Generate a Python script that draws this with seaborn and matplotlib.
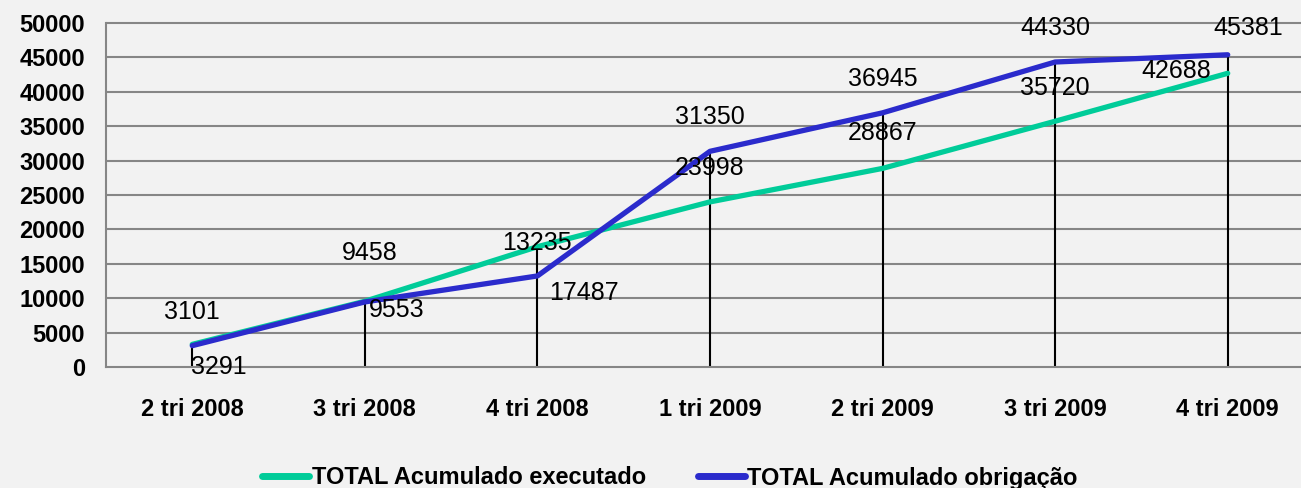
import numpy as np
import pandas as pd
import seaborn as sns
import matplotlib
matplotlib.use("Agg")
import matplotlib.pyplot as plt

# data
quarters = ["2 tri 2008", "3 tri 2008", "4 tri 2008", "1 tri 2009",
            "2 tri 2009", "3 tri 2009", "4 tri 2009"]
executado = [3291, 9553, 17487, 23998, 28867, 35720, 42688]
obrigacao = [3101, 9458, 13235, 31350, 36945, 44330, 45381]

name_exec = "TOTAL Acumulado executado"
name_obrig = "TOTAL Acumulado obrigação"

# label offsets in pixels (dx, dy), as placed in the original
off_exec = [(27, -23), (32, -9), (47, -46), (0, 34), (0, 35), (0, 33), (-51, 2)]
off_obrig = [(0, 34), (5, 49), (0, 33), (0, 34), (0, 34), (0, 34), (21, 27)]

bg = "#F2F2F2"
grid_c = "#868686"
green = "#00CC99"
blue = "#2B2BCC"

sns.set_style("white")
plt.rcParams['font.family'] = ['Liberation Sans', 'DejaVu Sans']
plt.rcParams['text.color'] = 'black'
plt.rcParams['xtick.color'] = 'black'
plt.rcParams['ytick.color'] = 'black'

df = pd.DataFrame({
    "x": list(range(len(quarters))) * 2,
    "valor": executado + obrigacao,
    "serie": [name_exec] * len(quarters) + [name_obrig] * len(quarters),
})

fig = plt.figure(figsize=(13.01, 4.88), dpi=100, facecolor=bg)
ax = fig.add_axes([106 / 1301, (488 - 367) / 488, 1208 / 1301, 344 / 488])
ax.set_facecolor(bg)

# horizontal grid
for y in range(5000, 50001, 5000):
    ax.axhline(y, color=grid_c, lw=1.5, zorder=1, clip_on=False)

# drop lines up to the higher series
ax.vlines(range(len(quarters)), 0, np.maximum(executado, obrigacao),
          color="black", lw=1.5, zorder=2)

sns.lineplot(data=df, x="x", y="valor", hue="serie", ax=ax,
             palette={name_exec: green, name_obrig: blue},
             linewidth=3.8, zorder=3, legend=True)

for i in range(len(quarters)):
    ax.annotate(str(executado[i]), (i, executado[i]), xytext=off_exec[i],
                textcoords="offset pixels", ha="center", va="center",
                fontsize=18, color="black", zorder=5)
    ax.annotate(str(obrigacao[i]), (i, obrigacao[i]), xytext=off_obrig[i],
                textcoords="offset pixels", ha="center", va="center",
                fontsize=18, color="black", zorder=5)

ax.set_xlim(-0.5, len(quarters) - 0.5)
ax.set_ylim(0, 50000)
ax.set_yticks(range(0, 50001, 5000))
ax.set_xticks(range(len(quarters)))
ax.set_xticklabels(quarters, fontsize=17, fontweight="bold")
ax.set_xticks(np.arange(-0.5, len(quarters)), minor=True)
for lbl in ax.get_yticklabels():
    lbl.set_fontsize(17)
    lbl.set_fontweight("bold")
ax.tick_params(axis="x", which="major", length=0, pad=22)
ax.tick_params(axis="x", which="minor", length=6, width=1.5, color=grid_c)
ax.tick_params(axis="y", length=6, width=1.5, color=grid_c, pad=9)
ax.set_xlabel("")
ax.set_ylabel("")

for side in ["top", "right"]:
    ax.spines[side].set_visible(False)
for side in ["left", "bottom"]:
    ax.spines[side].set_color(grid_c)
    ax.spines[side].set_linewidth(1.5)

ax.legend_.remove()
handles, labels = ax.get_legend_handles_labels()
leg = fig.legend(handles, labels, loc="center", bbox_to_anchor=(670 / 1301, 10 / 488),
                 ncol=2, frameon=False, handlelength=2.0, handletextpad=0.1,
                 columnspacing=2.2, prop={"size": 17, "weight": "bold"})
for h in leg.get_lines():
    h.set_linewidth(5)

fig.savefig("out.png", dpi=100, facecolor=bg)
